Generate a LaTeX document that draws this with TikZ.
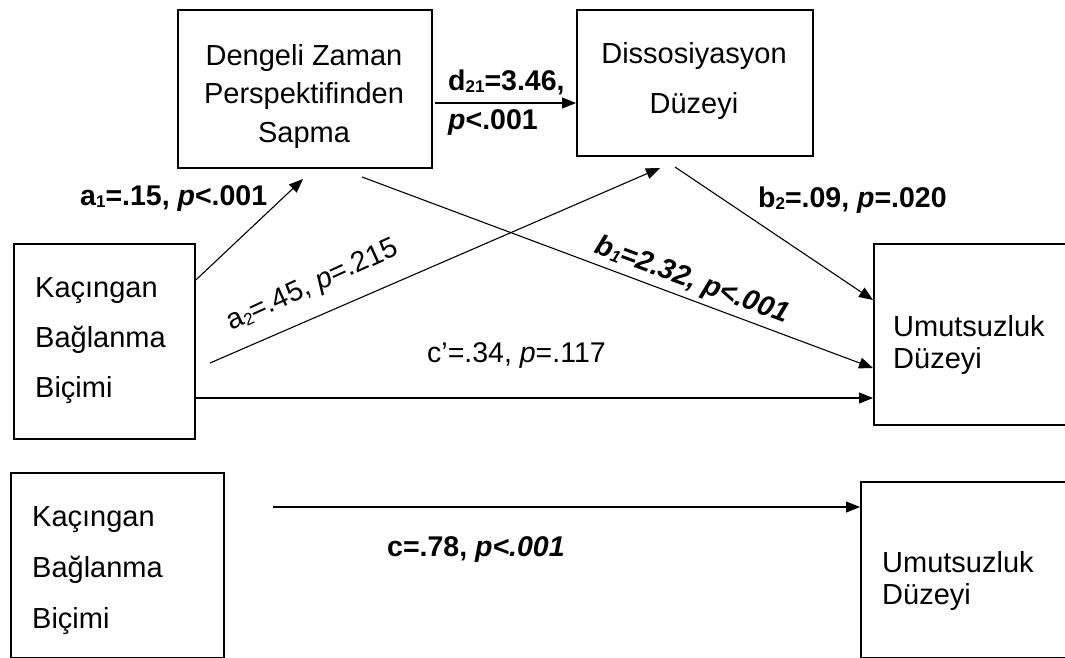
\documentclass[tikz,border=0pt]{standalone}
\usepackage{fontspec}
\setmainfont{Liberation Sans}
\usetikzlibrary{arrows.meta,calc}
\newcommand\mysub[1]{\raisebox{-2.5pt}{\fontsize{17}{17}\selectfont #1}}
\begin{document}
\begin{tikzpicture}[x=1pt,y=-1pt,
  box/.style={draw, line width=1.8pt, rectangle, inner sep=0pt, anchor=north west},
  arr/.style={line width=1.1pt, -{Triangle[length=14pt,width=11pt]}},
  boxtxt/.style={inner sep=0pt, font=\fontsize{29}{#1}\selectfont},
  lbl/.style={inner sep=0pt, font=\fontsize{28.5}{33}\selectfont},
  blbl/.style={inner sep=0pt, font=\fontsize{28.5}{33}\selectfont\bfseries},
]
\useasboundingbox (0,0) rectangle (1065,657);
\clip (0,0) rectangle (1065,657);

% boxes
\node[box, minimum width=254pt, minimum height=158pt] (deng) at (177,9) {};
\node[box, minimum width=236pt, minimum height=146pt] (diss) at (576,9) {};
\node[box, minimum width=181pt, minimum height=195pt] (kac) at (13,243) {};
\node[box, minimum width=220pt, minimum height=181pt] (umt) at (873,243) {};
\node[box, minimum width=213pt, minimum height=185.3pt] (kacb) at (10,472) {};
\node[box, minimum width=230pt, minimum height=176.3pt] (umtb) at (860,481) {};

% box texts
\node[boxtxt=38.5, align=center] (dengt) at (304,96) {Dengeli Zaman\\Perspektifinden\\Sapma};
\node[boxtxt=50, align=center] (disst) at (694,81) {Dissosiyasyon\\Düzeyi};
\node[boxtxt=50, align=left, anchor=west] (kact) at (35,341) {Kaçıngan\\Bağlanma\\Biçimi};
\node[boxtxt=31.5, align=left, anchor=west] (umtt) at (893,345) {Umutsuzluk\\Düzeyi};
\node[boxtxt=51, align=left, anchor=west] (kacbt) at (32,571) {Kaçıngan\\Bağlanma\\Biçimi};
\node[boxtxt=32, align=left, anchor=west] (umtbt) at (882,581) {Umutsuzluk\\Düzeyi};

% free ends
\coordinate (d21s) at (435,103);
\coordinate (a1e) at (303,179);
\coordinate (a2s) at (210,363);
\coordinate (a2e) at (660,168);
\coordinate (b1s) at (362,177);
\coordinate (b2s) at (675,167);
\coordinate (cs) at (273,507);

% connectors
\draw[arr] (d21s) -- (diss.west |- d21s);
\draw[arr] ($(kac.north east)+(0,37)$) -- (a1e);
\draw[arr] (a2s) -- (a2e);
\draw[arr] (b1s) -- ($(umt.north west)+(0,125)$);
\draw[arr] (b2s) -- ($(umt.north west)+(0,57)$);
\draw[arr] ($(kac.north east)+(0,155)$) -- ($(umt.north west)+(0,155)$);
\draw[arr] (cs) -- ($(umtb.north west)+(0,26)$);

% labels
\node[blbl, anchor=west] (d21a) at (448,82) {d\mysub{21}=3.46,};
\node[blbl, anchor=west] (d21b) at (448,122) {\textit{p}<.001};
\node[blbl, anchor=west] (a1l) at (80,198) {a\mysub{1}=.15, \textit{p}<.001};
\node[lbl, rotate=24.5] (a2l) at (313,286) {a\mysub{2}=.45, \textit{p}=.215};
\node[blbl, rotate=-20.3] (b1l) at (692,281) {\itshape b\mysub{1}=2.32, p<.001};
\node[blbl, anchor=west] (b2l) at (758,200) {b\mysub{2}=.09, \textit{p}=.020};
\node[lbl, anchor=west] (cpl) at (427,355) {c’=.34, \textit{p}=.117};
\node[blbl, anchor=west] (cl) at (387,549) {c=.78, \textit{p<.001}};
\end{tikzpicture}
\end{document}
